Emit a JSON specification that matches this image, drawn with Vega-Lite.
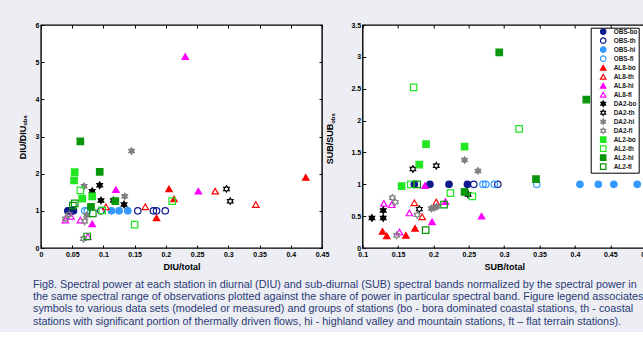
{
  "$schema": "https://vega.github.io/schema/vega-lite/v6.json",
  "background": "#eceef4",
  "padding": {"left": 17, "top": 20, "right": 0, "bottom": 5},
  "datasets": {
    "diu": [
      {"s": "OBS-bo", "x": 0.043, "y": 1}, {"s": "OBS-bo", "x": 0.046, "y": 1}, {"s": "OBS-bo", "x": 0.049, "y": 1}, {"s": "OBS-bo", "x": 0.052, "y": 1},
      {"s": "OBS-th", "x": 0.096, "y": 1}, {"s": "OBS-th", "x": 0.155, "y": 1}, {"s": "OBS-th", "x": 0.180, "y": 1}, {"s": "OBS-th", "x": 0.185, "y": 1}, {"s": "OBS-th", "x": 0.199, "y": 1},
      {"s": "OBS-hi", "x": 0.113, "y": 1}, {"s": "OBS-hi", "x": 0.125, "y": 1}, {"s": "OBS-hi", "x": 0.139, "y": 1},
      {"s": "OBS-fl", "x": 0.070, "y": 1}, {"s": "OBS-fl", "x": 0.074, "y": 1},
      {"s": "AL8-bo", "x": 0.205, "y": 1.59}, {"s": "AL8-bo", "x": 0.213, "y": 1.32}, {"s": "AL8-bo", "x": 0.185, "y": 0.81}, {"s": "AL8-bo", "x": 0.424, "y": 1.90},
      {"s": "AL8-th", "x": 0.104, "y": 1.11}, {"s": "AL8-th", "x": 0.167, "y": 1.11}, {"s": "AL8-th", "x": 0.279, "y": 1.53}, {"s": "AL8-th", "x": 0.344, "y": 1.17},
      {"s": "AL8-hi", "x": 0.231, "y": 5.15}, {"s": "AL8-hi", "x": 0.120, "y": 1.57}, {"s": "AL8-hi", "x": 0.252, "y": 1.53}, {"s": "AL8-hi", "x": 0.082, "y": 0.65},
      {"s": "AL8-fl", "x": 0.039, "y": 0.75}, {"s": "AL8-fl", "x": 0.048, "y": 0.85}, {"s": "AL8-fl", "x": 0.063, "y": 0.75}, {"s": "AL8-fl", "x": 0.075, "y": 0.31},
      {"s": "DA2-bo", "x": 0.082, "y": 1.53}, {"s": "DA2-bo", "x": 0.094, "y": 1.69}, {"s": "DA2-bo", "x": 0.096, "y": 1.28}, {"s": "DA2-bo", "x": 0.116, "y": 1.28}, {"s": "DA2-bo", "x": 0.133, "y": 1.17},
      {"s": "DA2-th", "x": 0.297, "y": 1.59}, {"s": "DA2-th", "x": 0.303, "y": 1.26},
      {"s": "DA2-hi", "x": 0.145, "y": 2.61}, {"s": "DA2-hi", "x": 0.069, "y": 1.66}, {"s": "DA2-hi", "x": 0.134, "y": 1.39}, {"s": "DA2-hi", "x": 0.073, "y": 0.88},
      {"s": "DA2-fl", "x": 0.039, "y": 0.79}, {"s": "DA2-fl", "x": 0.045, "y": 0.90}, {"s": "DA2-fl", "x": 0.070, "y": 0.72}, {"s": "DA2-fl", "x": 0.068, "y": 0.25},
      {"s": "AL2-bo", "x": 0.054, "y": 2.04}, {"s": "AL2-bo", "x": 0.053, "y": 1.82}, {"s": "AL2-bo", "x": 0.066, "y": 1.33}, {"s": "AL2-bo", "x": 0.082, "y": 1.39},
      {"s": "AL2-th", "x": 0.063, "y": 1.55}, {"s": "AL2-th", "x": 0.098, "y": 1.01}, {"s": "AL2-th", "x": 0.150, "y": 0.63}, {"s": "AL2-th", "x": 0.210, "y": 1.26},
      {"s": "AL2-hi", "x": 0.063, "y": 2.87}, {"s": "AL2-hi", "x": 0.094, "y": 2.05}, {"s": "AL2-hi", "x": 0.080, "y": 1.11}, {"s": "AL2-hi", "x": 0.119, "y": 1.26},
      {"s": "AL2-fl", "x": 0.051, "y": 1.14}, {"s": "AL2-fl", "x": 0.054, "y": 1.20}, {"s": "AL2-fl", "x": 0.083, "y": 0.93}, {"s": "AL2-fl", "x": 0.074, "y": 0.31}
    ],
    "sub": [
      {"s": "OBS-bo", "x": 0.173, "y": 1}, {"s": "OBS-bo", "x": 0.195, "y": 1}, {"s": "OBS-bo", "x": 0.222, "y": 1}, {"s": "OBS-bo", "x": 0.248, "y": 1},
      {"s": "OBS-th", "x": 0.257, "y": 1}, {"s": "OBS-th", "x": 0.291, "y": 1},
      {"s": "OBS-hi", "x": 0.407, "y": 1}, {"s": "OBS-hi", "x": 0.433, "y": 1}, {"s": "OBS-hi", "x": 0.455, "y": 1}, {"s": "OBS-hi", "x": 0.488, "y": 1},
      {"s": "OBS-fl", "x": 0.270, "y": 1}, {"s": "OBS-fl", "x": 0.274, "y": 1}, {"s": "OBS-fl", "x": 0.286, "y": 1}, {"s": "OBS-fl", "x": 0.346, "y": 1},
      {"s": "AL8-bo", "x": 0.128, "y": 0.26}, {"s": "AL8-bo", "x": 0.134, "y": 0.19}, {"s": "AL8-bo", "x": 0.161, "y": 0.20}, {"s": "AL8-bo", "x": 0.174, "y": 0.31},
      {"s": "AL8-th", "x": 0.173, "y": 0.71}, {"s": "AL8-th", "x": 0.184, "y": 0.49}, {"s": "AL8-th", "x": 0.204, "y": 0.72},
      {"s": "AL8-hi", "x": 0.188, "y": 0.98}, {"s": "AL8-hi", "x": 0.198, "y": 0.41}, {"s": "AL8-hi", "x": 0.217, "y": 0.73}, {"s": "AL8-hi", "x": 0.268, "y": 0.50},
      {"s": "AL8-fl", "x": 0.130, "y": 0.70}, {"s": "AL8-fl", "x": 0.141, "y": 0.68}, {"s": "AL8-fl", "x": 0.152, "y": 0.25}, {"s": "AL8-fl", "x": 0.166, "y": 0.55},
      {"s": "DA2-bo", "x": 0.113, "y": 0.47}, {"s": "DA2-bo", "x": 0.129, "y": 0.47}, {"s": "DA2-bo", "x": 0.129, "y": 0.59}, {"s": "DA2-bo", "x": 0.249, "y": 0.84},
      {"s": "DA2-th", "x": 0.171, "y": 1.24}, {"s": "DA2-th", "x": 0.204, "y": 1.29}, {"s": "DA2-th", "x": 0.180, "y": 0.61},
      {"s": "DA2-hi", "x": 0.244, "y": 1.38}, {"s": "DA2-hi", "x": 0.263, "y": 1.21}, {"s": "DA2-hi", "x": 0.197, "y": 0.62}, {"s": "DA2-hi", "x": 0.201, "y": 0.63}, {"s": "DA2-hi", "x": 0.205, "y": 0.65},
      {"s": "DA2-fl", "x": 0.142, "y": 0.79}, {"s": "DA2-fl", "x": 0.146, "y": 0.72}, {"s": "DA2-fl", "x": 0.177, "y": 0.52}, {"s": "DA2-fl", "x": 0.148, "y": 0.20},
      {"s": "AL2-bo", "x": 0.155, "y": 0.97}, {"s": "AL2-bo", "x": 0.180, "y": 1.31}, {"s": "AL2-bo", "x": 0.1895, "y": 1.63}, {"s": "AL2-bo", "x": 0.244, "y": 1.59},
      {"s": "AL2-th", "x": 0.172, "y": 2.52}, {"s": "AL2-th", "x": 0.321, "y": 1.87}, {"s": "AL2-th", "x": 0.168, "y": 1.0}, {"s": "AL2-th", "x": 0.224, "y": 0.86}, {"s": "AL2-th", "x": 0.255, "y": 0.81},
      {"s": "AL2-hi", "x": 0.293, "y": 3.07}, {"s": "AL2-hi", "x": 0.416, "y": 2.33}, {"s": "AL2-hi", "x": 0.345, "y": 1.08}, {"s": "AL2-hi", "x": 0.244, "y": 0.88},
      {"s": "AL2-fl", "x": 0.177, "y": 1.0}, {"s": "AL2-fl", "x": 0.215, "y": 0.68}, {"s": "AL2-fl", "x": 0.189, "y": 0.28}
    ]
  },
  "hconcat": [
    {
      "width": 281,
      "height": 223,
      "data": {"name": "diu"},
      "layer": [
        {
          "mark": {"type": "point", "size": 42, "strokeWidth": 1.2, "opacity": 1, "fillOpacity": 1},
          "encoding": {
            "x": {"field": "x", "type": "quantitative", "title": "DIU/total",
              "scale": {"domain": [0, 0.45], "nice": false, "zero": false},
              "axis": {"orient": "bottom", "values": [0, 0.05, 0.1, 0.15, 0.2, 0.25, 0.3, 0.35, 0.4, 0.45], "format": "~g", "titleY": 18, "titleBaseline": "middle"}},
            "y": {"field": "y", "type": "quantitative", "title": "DIU/DIU",
              "scale": {"domain": [0, 6], "nice": false, "zero": false},
              "axis": {"orient": "left", "values": [0, 1, 2, 3, 4, 5, 6], "format": "~g", "titleX": -19, "titleY": 117, "titleAngle": 270, "titleBaseline": "middle", "titleAlign": "center"}},
            "shape": {"field": "s", "type": "nominal", "legend": null,
              "scale": {"domain": ["OBS-bo", "OBS-th", "OBS-hi", "OBS-fl", "AL8-bo", "AL8-th", "AL8-hi", "AL8-fl", "DA2-bo", "DA2-th", "DA2-hi", "DA2-fl", "AL2-bo", "AL2-th", "AL2-hi", "AL2-fl"],
                "range": ["circle", "circle", "circle", "circle", "triangle-up", "triangle-up", "triangle-up", "triangle-up",
                  "M0,-1L0.289,-0.5L0.866,-0.5L0.577,0L0.866,0.5L0.289,0.5L0,1L-0.289,0.5L-0.866,0.5L-0.577,0L-0.866,-0.5L-0.289,-0.5Z",
                  "M0,-1L0.289,-0.5L0.866,-0.5L0.577,0L0.866,0.5L0.289,0.5L0,1L-0.289,0.5L-0.866,0.5L-0.577,0L-0.866,-0.5L-0.289,-0.5Z",
                  "M0,-1L0.289,-0.5L0.866,-0.5L0.577,0L0.866,0.5L0.289,0.5L0,1L-0.289,0.5L-0.866,0.5L-0.577,0L-0.866,-0.5L-0.289,-0.5Z",
                  "M0,-1L0.289,-0.5L0.866,-0.5L0.577,0L0.866,0.5L0.289,0.5L0,1L-0.289,0.5L-0.866,0.5L-0.577,0L-0.866,-0.5L-0.289,-0.5Z",
                  "square", "square", "square", "square"]}},
            "stroke": {"field": "s", "type": "nominal", "legend": null,
              "scale": {"domain": ["OBS-bo", "OBS-th", "OBS-hi", "OBS-fl", "AL8-bo", "AL8-th", "AL8-hi", "AL8-fl", "DA2-bo", "DA2-th", "DA2-hi", "DA2-fl", "AL2-bo", "AL2-th", "AL2-hi", "AL2-fl"],
                "range": ["#0c1a8c", "#0c1a8c", "#3399ff", "#3399ff", "#ff0000", "#ff0000", "#ff00ff", "#ff00ff", "#000000", "#000000", "#808080", "#808080", "#22e622", "#22e622", "#0a960a", "#0a960a"]}},
            "fill": {"field": "s", "type": "nominal", "legend": null,
              "scale": {"domain": ["OBS-bo", "OBS-th", "OBS-hi", "OBS-fl", "AL8-bo", "AL8-th", "AL8-hi", "AL8-fl", "DA2-bo", "DA2-th", "DA2-hi", "DA2-fl", "AL2-bo", "AL2-th", "AL2-hi", "AL2-fl"],
                "range": ["#0c1a8c", "transparent", "#3399ff", "transparent", "#ff0000", "transparent", "#ff00ff", "transparent", "#000000", "transparent", "#808080", "transparent", "#22e622", "transparent", "#0a960a", "transparent"]}}
          }
        },
        {
          "mark": {"type": "point", "opacity": 0},
          "encoding": {
            "x": {"field": "x", "type": "quantitative",
              "axis": {"orient": "top", "labels": false, "title": null, "values": [0, 0.05, 0.1, 0.15, 0.2, 0.25, 0.3, 0.35, 0.4, 0.45]}},
            "y": {"field": "y", "type": "quantitative",
              "axis": {"orient": "right", "labels": false, "title": "obs", "values": [0, 1, 2, 3, 4, 5, 6], "titleFontSize": 6, "titleX": -297.5, "titleY": 95, "titleAngle": 270, "titleBaseline": "middle", "titleAlign": "center"}}
          }
        }
      ],
      "resolve": {"axis": {"x": "independent", "y": "independent"}}
    },
    {
      "width": 283,
      "height": 223,
      "data": {"name": "sub"},
      "layer": [
        {
          "mark": {"type": "point", "size": 42, "strokeWidth": 1.2, "opacity": 1, "fillOpacity": 1},
          "encoding": {
            "x": {"field": "x", "type": "quantitative", "title": "SUB/total",
              "scale": {"domain": [0.1, 0.5], "nice": false, "zero": false},
              "axis": {"orient": "bottom", "values": [0.1, 0.15, 0.2, 0.25, 0.3, 0.35, 0.4, 0.45, 0.5], "format": "~g", "titleY": 18, "titleBaseline": "middle"}},
            "y": {"field": "y", "type": "quantitative", "title": "SUB/SUB",
              "scale": {"domain": [0, 3.5], "nice": false, "zero": false},
              "axis": {"orient": "left", "values": [0, 0.5, 1, 1.5, 2, 2.5, 3, 3.5], "format": "~g", "titleX": -33, "titleY": 118.5, "titleAngle": 270, "titleBaseline": "middle", "titleAlign": "center"}},
            "shape": {"field": "s", "type": "nominal", "legend": {"title": null},
              "scale": {"domain": ["OBS-bo", "OBS-th", "OBS-hi", "OBS-fl", "AL8-bo", "AL8-th", "AL8-hi", "AL8-fl", "DA2-bo", "DA2-th", "DA2-hi", "DA2-fl", "AL2-bo", "AL2-th", "AL2-hi", "AL2-fl"],
                "range": ["circle", "circle", "circle", "circle", "triangle-up", "triangle-up", "triangle-up", "triangle-up",
                  "M0,-1L0.289,-0.5L0.866,-0.5L0.577,0L0.866,0.5L0.289,0.5L0,1L-0.289,0.5L-0.866,0.5L-0.577,0L-0.866,-0.5L-0.289,-0.5Z",
                  "M0,-1L0.289,-0.5L0.866,-0.5L0.577,0L0.866,0.5L0.289,0.5L0,1L-0.289,0.5L-0.866,0.5L-0.577,0L-0.866,-0.5L-0.289,-0.5Z",
                  "M0,-1L0.289,-0.5L0.866,-0.5L0.577,0L0.866,0.5L0.289,0.5L0,1L-0.289,0.5L-0.866,0.5L-0.577,0L-0.866,-0.5L-0.289,-0.5Z",
                  "M0,-1L0.289,-0.5L0.866,-0.5L0.577,0L0.866,0.5L0.289,0.5L0,1L-0.289,0.5L-0.866,0.5L-0.577,0L-0.866,-0.5L-0.289,-0.5Z",
                  "square", "square", "square", "square"]}},
            "stroke": {"field": "s", "type": "nominal", "legend": {"title": null},
              "scale": {"domain": ["OBS-bo", "OBS-th", "OBS-hi", "OBS-fl", "AL8-bo", "AL8-th", "AL8-hi", "AL8-fl", "DA2-bo", "DA2-th", "DA2-hi", "DA2-fl", "AL2-bo", "AL2-th", "AL2-hi", "AL2-fl"],
                "range": ["#0c1a8c", "#0c1a8c", "#3399ff", "#3399ff", "#ff0000", "#ff0000", "#ff00ff", "#ff00ff", "#000000", "#000000", "#808080", "#808080", "#22e622", "#22e622", "#0a960a", "#0a960a"]}},
            "fill": {"field": "s", "type": "nominal", "legend": {"title": null},
              "scale": {"domain": ["OBS-bo", "OBS-th", "OBS-hi", "OBS-fl", "AL8-bo", "AL8-th", "AL8-hi", "AL8-fl", "DA2-bo", "DA2-th", "DA2-hi", "DA2-fl", "AL2-bo", "AL2-th", "AL2-hi", "AL2-fl"],
                "range": ["#0c1a8c", "transparent", "#3399ff", "transparent", "#ff0000", "transparent", "#ff00ff", "transparent", "#000000", "transparent", "#808080", "transparent", "#22e622", "transparent", "#0a960a", "transparent"]}}
          }
        },
        {
          "mark": {"type": "point", "opacity": 0},
          "encoding": {
            "x": {"field": "x", "type": "quantitative",
              "axis": {"orient": "top", "labels": false, "title": null, "values": [0.1, 0.15, 0.2, 0.25, 0.3, 0.35, 0.4, 0.45, 0.5]}},
            "y": {"field": "y", "type": "quantitative",
              "axis": {"orient": "right", "labels": false, "title": "obs", "values": [0, 0.5, 1, 1.5, 2, 2.5, 3, 3.5], "titleFontSize": 6, "titleX": -313.5, "titleY": 93, "titleAngle": 270, "titleBaseline": "middle", "titleAlign": "center"}}
          }
        }
      ],
      "resolve": {"axis": {"x": "independent", "y": "independent"}}
    }
  ],
  "spacing": 40.7,
  "bounds": "flush",
  "resolve": {"scale": {"shape": "independent", "stroke": "independent", "fill": "independent"}},
  "title": {
    "text": [
      "Fig8. Spectral power at each station in diurnal (DIU) and sub-diurnal (SUB) spectral bands normalized by the spectral power in",
      "the same spectral range of observations plotted against the share of power in particular spectral band. Figure legend associates",
      "symbols to various data sets (modeled or measured) and groups of stations (bo - bora dominated coastal stations, th - coastal",
      "stations with significant portion of thermally driven flows, hi - highland valley and mountain stations, ft – flat terrain stations)."
    ],
    "orient": "bottom",
    "anchor": "start",
    "frame": "group",
    "font": "Liberation Sans",
    "fontSize": 10.8,
    "fontWeight": "normal",
    "color": "#2a3a75",
    "lineHeight": 12.4,
    "offset": 7,
    "dx": -8
  },
  "config": {
    "view": {"fill": "white", "stroke": "black", "strokeWidth": 1.4},
    "axis": {
      "domain": false, "grid": false,
      "tickColor": "black", "tickSize": -3, "tickWidth": 1,
      "labelFont": "Liberation Sans", "labelFontSize": 7, "labelFontWeight": "bold", "labelColor": "black",
      "labelPadding": 5, "labelOverlap": false, "labelFlush": false,
      "titleFont": "Liberation Sans", "titleFontSize": 9, "titleFontWeight": "bold", "titleColor": "black"
    },
    "legend": {
      "orient": "none", "legendX": 228, "legendY": 2.7,
      "padding": 0.5, "rowPadding": -2.05, "symbolOffset": 8.5, "labelOffset": 7,
      "labelFont": "Liberation Sans", "labelFontSize": 6.4, "labelFontWeight": "bold", "labelColor": "#1a1a1a",
      "symbolSize": 30, "symbolStrokeWidth": 1.2,
      "strokeColor": "black", "fillColor": "white", "cornerRadius": 0
    }
  }
}
